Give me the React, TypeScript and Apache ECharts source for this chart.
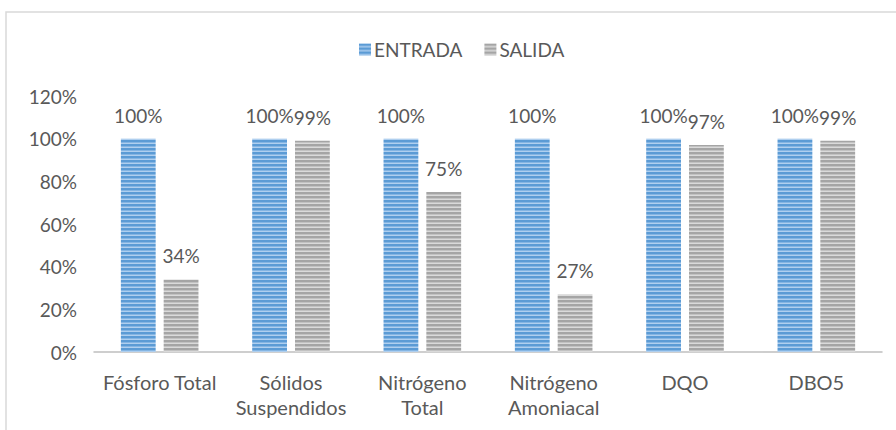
import React, { useEffect, useRef } from "react";
import * as echarts from "echarts";

const categories = [
  "Fósforo Total",
  "Sólidos\nSuspendidos",
  "Nitrógeno\nTotal",
  "Nitrógeno\nAmoniacal",
  "DQO",
  "DBO5",
];
const seriesNames = ["ENTRADA", "SALIDA"];
const entrada = [1.0, 1.0, 1.0, 1.0, 1.0, 1.0];
const salida = [0.34, 0.99, 0.75, 0.27, 0.97, 0.99];
const yTicks = { min: 0, max: 1.2, interval: 0.2 };

function stripe(rows: string[]) {
  const c = document.createElement("canvas");
  c.width = 4;
  c.height = rows.length;
  const ctx = c.getContext("2d")!;
  rows.forEach((col, i) => {
    ctx.fillStyle = col;
    ctx.fillRect(0, i, 4, 1);
  });
  return c;
}

export default function App() {
  const ref = useRef<HTMLDivElement>(null);
  useEffect(() => {
    if (!ref.current) return;
    const chart = echarts.init(ref.current, null, { renderer: "svg" });
    const bluePat = { image: stripe(["#5B9BD5", "#5B9BD5", "#84B5E3", "#AFCFEF"]), repeat: "repeat" };
    const grayPat = { image: stripe(["#A5A5A5", "#A5A5A5", "#C2C2C2", "#DADADA"]), repeat: "repeat" };
    const font = "Lato, 'Open Sans', sans-serif";
    const txt = "#595959";
    const label = {
      show: true,
      position: "top" as const,
      distance: 14,
      color: txt,
      fontSize: 19,
      fontFamily: font,
      formatter: (p: any) => Math.round(p.value * 100) + "%",
    };
    chart.setOption({
      animation: false,
      graphic: [
        {
          type: "rect",
          shape: { x: 6, y: 12, width: 1000, height: 1000 },
          style: { fill: "none", stroke: "#D9D9D9", lineWidth: 1.5 },
          silent: true,
        },
      ],
      legend: {
        top: 35,
        left: 354,
        itemWidth: 12,
        itemHeight: 12,
        itemGap: 22,
        icon: "rect",
        textStyle: { color: txt, fontSize: 19, fontFamily: font, padding: [0, 0, 0, -2] },
        data: seriesNames,
      },
      grid: { left: 94, right: 14, top: 96, bottom: 78, containLabel: false },
      xAxis: {
        type: "category",
        data: categories,
        axisLine: { lineStyle: { color: "#BFBFBF", width: 1.5 } },
        axisTick: { show: false },
        axisLabel: {
          color: txt,
          fontSize: 20,
          fontFamily: font,
          margin: 17,
          lineHeight: 25,
          interval: 0,
        },
      },
      yAxis: {
        type: "value",
        min: yTicks.min,
        max: yTicks.max,
        interval: yTicks.interval,
        splitLine: { show: false },
        axisLine: { show: false },
        axisTick: { show: false },
        axisLabel: {
          color: txt,
          fontSize: 19,
          fontFamily: font,
          margin: 17,
          formatter: (v: number) => Math.round(v * 100) + "%",
        },
      },
      series: [
        {
          name: seriesNames[0],
          type: "bar",
          data: entrada,
          barWidth: "26.5%",
          barGap: "23%",
          itemStyle: { color: bluePat },
          label,
        },
        {
          name: seriesNames[1],
          type: "bar",
          data: salida,
          barWidth: "26.5%",
          barGap: "23%",
          itemStyle: { color: grayPat },
          label,
        },
      ],
    });
    return () => chart.dispose();
  }, []);
  return <div ref={ref} style={{ width: 896, height: 430, position: "absolute", left: 0, top: 0 }} />;
}
